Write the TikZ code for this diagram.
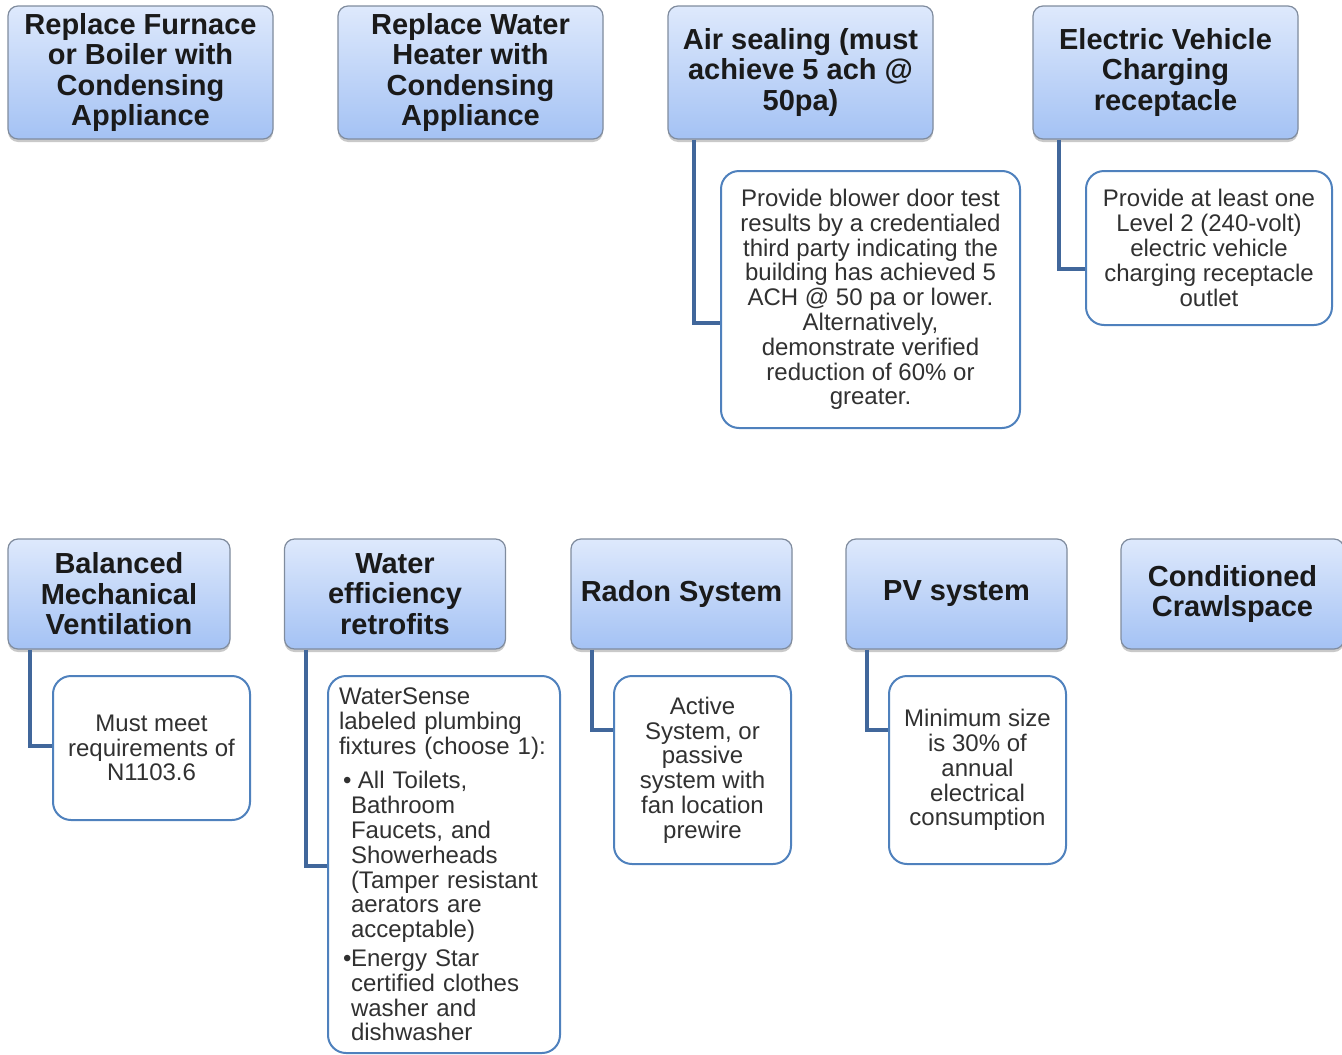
\documentclass[tikz,border=0pt]{standalone}
\usepackage{fontspec}
\setmainfont{Liberation Sans}
\usetikzlibrary{shadows}
\definecolor{hdrtop}{RGB}{222,233,252}
\definecolor{hdrbot}{RGB}{164,194,244}
\definecolor{hdrline}{RGB}{128,140,158}
\definecolor{childline}{RGB}{79,129,189}
\definecolor{connc}{RGB}{65,103,155}
\definecolor{txt}{RGB}{26,26,26}
\tikzset{
  hdr/.style={draw=hdrline, line width=1.2pt, rounded corners=10pt,
    top color=hdrtop, bottom color=hdrbot, inner sep=0pt, align=center,
    text=txt, font=\fontsize{29}{30.5}\selectfont\bfseries,
    drop shadow={shadow xshift=0pt, shadow yshift=-3pt, opacity=0.3, fill=black!70}},
  hdrtop/.style={hdr, minimum width=265pt, minimum height=133pt},
  hdrbot/.style={hdr, minimum width=221pt, minimum height=110pt},
  child/.style={draw=childline, line width=2pt, fill=white, rounded corners=18pt,
    inner sep=0pt, align=center, text=txt!90,
    font=\fontsize{24}{24.8}\selectfont},
  conn/.style={draw=connc, line width=4pt}
}
\begin{document}
\begin{tikzpicture}[x=1pt,y=-1pt]
\path[use as bounding box] (0,0) rectangle (1342,1055);
% top row headers
\node[hdrtop] (h1) at (140.5,72.5) {Replace Furnace\\or Boiler with\\Condensing\\Appliance};
\node[hdrtop] (h2) at (470.5,72.5) {Replace Water\\Heater with\\Condensing\\Appliance};
\node[hdrtop] (h3) at (800.5,72.5) {Air sealing (must\\achieve 5 ach @\\50pa)};
\node[hdrtop] (h4) at (1165.5,72.5) {Electric Vehicle\\Charging\\receptacle};
% top row children
\node[child, minimum width=299pt, minimum height=257pt] (c3) at (870.5,299.5)
  {Provide blower door test\\results by a credentialed\\third party indicating the\\building has achieved 5\\ACH @ 50 pa or lower.\\Alternatively,\\demonstrate verified\\reduction of 60\% or\\greater.};
\node[child, minimum width=246pt, minimum height=154pt] (c4) at (1209,248)
  {Provide at least one\\Level 2 (240-volt)\\electric vehicle\\charging receptacle\\outlet};
\draw[conn] ([xshift=27pt]h3.south west) |- ([yshift=-23.5pt]c3.west);
\draw[conn] ([xshift=27pt]h4.south west) |- ([yshift=-21pt]c4.west);
% bottom row headers
\node[hdrbot, minimum width=222pt] (h5) at (119,594) {Balanced\\Mechanical\\Ventilation};
\node[hdrbot] (h6) at (395,594) {Water\\efficiency\\retrofits};
\node[hdrbot] (h7) at (681.5,594) {Radon System};
\node[hdrbot] (h8) at (956.5,594) {PV system};
\node[hdrbot, minimum width=223pt] (h9) at (1232.5,594) {Conditioned\\Crawlspace};
% bottom row children
\node[child, minimum width=197pt, minimum height=144pt] (c5) at (151.5,748)
  {Must meet\\requirements of\\N1103.6};
\node[child, minimum width=232pt, minimum height=377pt, align=left, text width=210pt] (c6) at (444,864.5)
  {WaterSense\\labeled plumbing\\fixtures (choose 1):\\[10pt]
   \hspace*{4pt}\makebox[8pt][l]{•}\hspace*{7pt}All Toilets,\\
   \hspace*{12pt}Bathroom\\
   \hspace*{12pt}Faucets, and\\
   \hspace*{12pt}Showerheads\\
   \hspace*{12pt}(Tamper resistant\\
   \hspace*{12pt}aerators are\\
   \hspace*{12pt}acceptable)\\[4pt]
   \hspace*{4pt}\makebox[8pt][l]{•}Energy Star\\
   \hspace*{12pt}certified clothes\\
   \hspace*{12pt}washer and\\
   \hspace*{12pt}dishwasher};
\node[child, minimum width=177pt, minimum height=188pt] (c7) at (702.5,770)
  {Active\\System, or\\passive\\system with\\fan location\\prewire};
\node[child, minimum width=177pt, minimum height=188pt] (c8) at (977.5,770)
  {Minimum size\\is 30\% of\\annual\\electrical\\consumption};
\draw[conn] ([xshift=23pt]h5.south west) |- ([yshift=2pt]c5.west);
\draw[conn] ([xshift=22pt]h6.south west) |- ([yshift=-1.5pt]c6.west);
\draw[conn] ([xshift=22pt]h7.south west) |- ([yshift=40pt]c7.west);
\draw[conn] ([xshift=22pt]h8.south west) |- ([yshift=40pt]c8.west);
\end{tikzpicture}
\end{document}
